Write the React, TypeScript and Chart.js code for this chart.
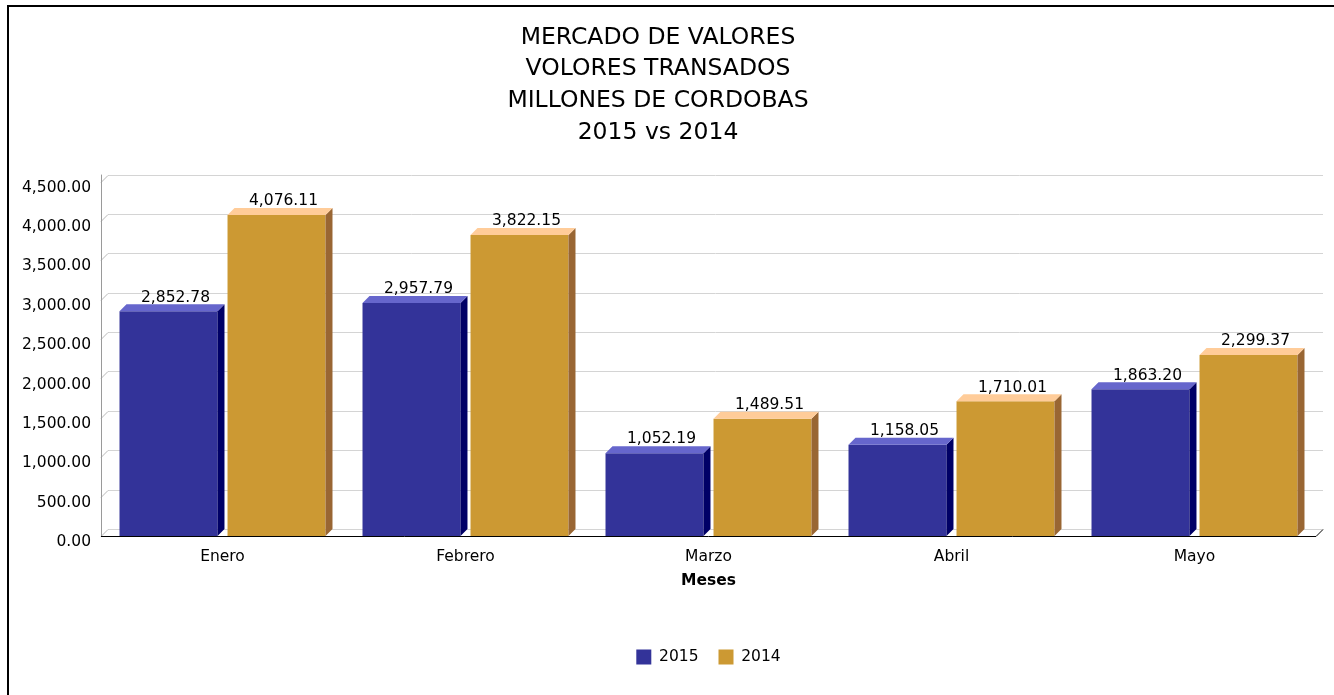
import React, { useEffect, useRef } from "react";
import { Chart, registerables } from "chart.js";

Chart.register(...registerables);

const titleLines = ["MERCADO DE VALORES", "VOLORES TRANSADOS", "MILLONES DE CORDOBAS", "2015 vs 2014"];
const categories = ["Enero", "Febrero", "Marzo", "Abril", "Mayo"];
const seriesNames = ["2015", "2014"];
const values2015 = [2852.78, 2957.79, 1052.19, 1158.05, 1863.2];
const values2014 = [4076.11, 3822.15, 1489.51, 1710.01, 2299.37];
const yMin = 0;
const yMax = 4500;
const yStep = 500;
const xAxisTitle = "Meses";

const FONT = "'DejaVu Sans', Verdana, sans-serif";
const DX = 7;
const DY = 7;

const faces = [
  { front: "#333399", top: "#6666cc", side: "#000066" },
  { front: "#cc9933", top: "#ffcc99", side: "#996633" },
];

const fmt = (v: number) =>
  v.toLocaleString("en-US", { minimumFractionDigits: 2, maximumFractionDigits: 2 });

const grid3d = {
  id: "grid3d",
  beforeDatasetsDraw(chart: any) {
    const { ctx, chartArea } = chart;
    const y = chart.scales.y;
    const { left, right, top, bottom } = chartArea;
    ctx.save();
    ctx.lineWidth = 1;
    y.ticks.forEach((t: any) => {
      const py = Math.round(y.getPixelForValue(t.value)) + 0.5;
      ctx.strokeStyle = "#d4d4d4";
      ctx.beginPath();
      ctx.moveTo(left + DX, py - DY);
      ctx.lineTo(right + DX, py - DY);
      ctx.stroke();
      ctx.strokeStyle = "#b8b8b8";
      ctx.beginPath();
      ctx.moveTo(left, py);
      ctx.lineTo(left + DX, py - DY);
      ctx.stroke();
    });
    // y axis line
    ctx.strokeStyle = "#9a9a9a";
    ctx.beginPath();
    ctx.moveTo(left + 0.5, top - DY);
    ctx.lineTo(left + 0.5, bottom);
    ctx.stroke();
    // baseline
    const by = Math.round(bottom) + 0.5;
    ctx.strokeStyle = "#000000";
    ctx.beginPath();
    ctx.moveTo(left, by);
    ctx.lineTo(right, by);
    ctx.lineTo(right + DX, by - DY);
    ctx.stroke();
    ctx.restore();
  },
};

const bar3d = {
  id: "bar3d",
  afterDatasetsDraw(chart: any) {
    const { ctx } = chart;
    ctx.save();
    chart.data.datasets.forEach((ds: any, di: number) => {
      const meta = chart.getDatasetMeta(di);
      const f = faces[di];
      meta.data.forEach((el: any, i: number) => {
        const { x, y, base, width } = el.getProps(["x", "y", "base", "width"], true);
        const l = x - width / 2;
        const r = x + width / 2;
        // side
        ctx.fillStyle = f.side;
        ctx.beginPath();
        ctx.moveTo(r, y);
        ctx.lineTo(r + DX, y - DY);
        ctx.lineTo(r + DX, base - DY);
        ctx.lineTo(r, base);
        ctx.closePath();
        ctx.fill();
        // top
        ctx.fillStyle = f.top;
        ctx.beginPath();
        ctx.moveTo(l, y);
        ctx.lineTo(l + DX, y - DY);
        ctx.lineTo(r + DX, y - DY);
        ctx.lineTo(r, y);
        ctx.closePath();
        ctx.fill();
        // label
        ctx.fillStyle = "#000000";
        ctx.font = `15.5px ${FONT}`;
        ctx.textAlign = "center";
        ctx.textBaseline = "bottom";
        ctx.fillText(fmt(ds.data[i]), x + DX, y - DY + 1);
      });
    });
    ctx.restore();
  },
};

export default function App() {
  const ref = useRef<HTMLCanvasElement>(null);

  useEffect(() => {
    if (!ref.current) return;
    const chart = new Chart(ref.current, {
      type: "bar",
      data: {
        labels: categories,
        datasets: [
          {
            label: seriesNames[0],
            data: values2015,
            backgroundColor: faces[0].front,
            borderWidth: 0,
            barPercentage: 0.907,
            categoryPercentage: 0.889,
          },
          {
            label: seriesNames[1],
            data: values2014,
            backgroundColor: faces[1].front,
            borderWidth: 0,
            barPercentage: 0.907,
            categoryPercentage: 0.889,
          },
        ],
      },
      options: {
        responsive: false,
        animation: false,
        layout: { padding: { left: 0, right: 18, top: 0, bottom: 20.25 } },
        plugins: {
          title: {
            display: true,
            text: titleLines,
            color: "#000000",
            font: { family: FONT, size: 23.5, weight: "normal", lineHeight: "31.7px" },
            padding: { top: 21.7, bottom: 33.1 },
          },
          legend: {
            display: true,
            position: "bottom",
            fullSize: false,
            labels: {
              color: "#000000",
              font: { family: FONT, size: 15.5 },
              boxWidth: 15,
              boxHeight: 15,
              padding: 20,
            },
          },
          tooltip: { enabled: false },
        },
        scales: {
          x: {
            grid: { display: false, drawTicks: false },
            border: { display: false },
            ticks: { color: "#000000", font: { family: FONT, size: 15.5 }, padding: 12 },
            title: {
              display: true,
              text: xAxisTitle,
              color: "#000000",
              font: { family: FONT, size: 15.5, weight: "bold" },
              padding: { top: 0, bottom: 38.95 },
            },
            afterFit(scale: any) {
              scale.height = 93.25;
            },
          },
          y: {
            min: yMin,
            max: yMax,
            grid: { display: false, drawTicks: false },
            border: { display: false },
            ticks: {
              stepSize: yStep,
              color: "#000000",
              font: { family: FONT, size: 15.5 },
              padding: 10,
              labelOffset: 6,
              callback: (v: any) => fmt(Number(v)),
            },
            afterFit(scale: any) {
              scale.width = 101;
            },
          },
        },
      },
      plugins: [grid3d, bar3d],
    });
    return () => chart.destroy();
  }, []);

  return (
    <div style={{ position: "absolute", left: 0, top: 0, width: 1334, height: 695, background: "#ffffff" }}>
      <canvas ref={ref} width={1334} height={695} style={{ display: "block", width: 1334, height: 695 }} />
      <div
        style={{
          position: "absolute",
          left: 7,
          top: 5,
          right: 0,
          bottom: 0,
          borderLeft: "2px solid #000",
          borderTop: "2px solid #000",
          pointerEvents: "none",
        }}
      />
    </div>
  );
}
